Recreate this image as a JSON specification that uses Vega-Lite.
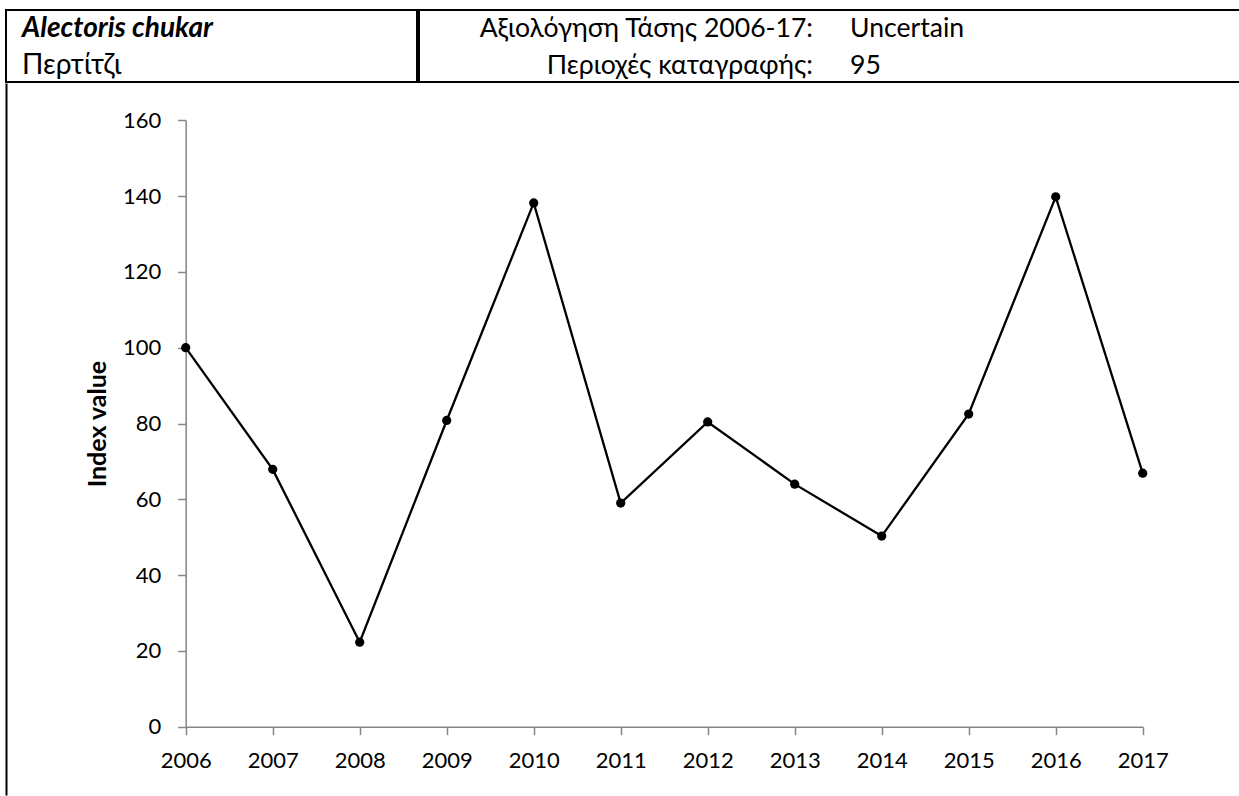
{
  "$schema": "https://vega.github.io/schema/vega-lite/v6.json",
  "background": "white",
  "padding": {"left": 5, "top": 9, "right": 0, "bottom": 0},
  "config": {"font": "Lato, Open Sans, sans-serif", "view": {"stroke": null}},
  "datasets": {
    "header": [
      {"row": 1, "name": "Alectoris chukar", "label": "Αξιολόγηση Τάσης 2006-17:", "value": "Uncertain"},
      {"row": 2, "name": "Περτίτζι", "label": "Περιοχές καταγραφής:", "value": "95"}
    ],
    "index": [
      {"year": 2006, "index": 100},
      {"year": 2007, "index": 67.9},
      {"year": 2008, "index": 22.3},
      {"year": 2009, "index": 80.8},
      {"year": 2010, "index": 138.2},
      {"year": 2011, "index": 59.0},
      {"year": 2012, "index": 80.4},
      {"year": 2013, "index": 64.0},
      {"year": 2014, "index": 50.3},
      {"year": 2015, "index": 82.5},
      {"year": 2016, "index": 139.8},
      {"year": 2017, "index": 66.9}
    ],
    "border": [{"edge": 0, "t": ""}]
  },
  "spacing": 0,
  "vconcat": [
    {
      "spacing": 0,
      "hconcat": [
        {
          "width": 411,
          "height": 72,
          "view": {"stroke": "black", "strokeWidth": 2},
          "data": {"name": "header"},
          "encoding": {
            "x": {"datum": 0, "type": "quantitative", "scale": {"domain": [0, 1], "range": [16, 411]}, "axis": null},
            "y": {"field": "row", "type": "quantitative", "scale": {"domain": [1, 2], "range": [27.3, 64]}, "axis": null},
            "text": {"field": "name"}
          },
          "layer": [
            {
              "transform": [{"filter": "datum.row == 1"}],
              "mark": {"type": "text", "align": "left", "baseline": "alphabetic", "fontSize": 28, "fontWeight": "bold", "fontStyle": "italic", "color": "black"}
            },
            {
              "transform": [{"filter": "datum.row == 2"}],
              "mark": {"type": "text", "align": "left", "baseline": "alphabetic", "fontSize": 28, "color": "black"}
            }
          ]
        },
        {
          "width": 821,
          "height": 72,
          "view": {"stroke": "black", "strokeWidth": 2},
          "data": {"name": "header"},
          "encoding": {
            "y": {"field": "row", "type": "quantitative", "scale": {"domain": [1, 2], "range": [27.3, 64]}, "axis": null}
          },
          "layer": [
            {
              "mark": {"type": "text", "align": "right", "baseline": "alphabetic", "fontSize": 26.6, "color": "black"},
              "encoding": {
                "x": {"datum": 0, "type": "quantitative", "scale": {"domain": [0, 1], "range": [394, 431]}, "axis": null},
                "text": {"field": "label"}
              }
            },
            {
              "mark": {"type": "text", "align": "left", "baseline": "alphabetic", "fontSize": 26.6, "color": "black"},
              "encoding": {
                "x": {"datum": 1, "type": "quantitative", "scale": {"domain": [0, 1], "range": [394, 431]}, "axis": null},
                "text": {"field": "value"}
              }
            }
          ]
        }
      ]
    },
    {
      "width": 1232,
      "height": 712,
      "resolve": {"scale": {"y": "independent"}, "axis": {"y": "independent"}},
      "layer": [
        {
          "data": {"name": "index"},
          "encoding": {
            "x": {
              "field": "year",
              "type": "quantitative",
              "scale": {"domain": [2006, 2017], "range": [179.7, 1136.7], "nice": false, "zero": false},
              "axis": {
                "offset": -68.3,
                "values": [2006, 2007, 2008, 2009, 2010, 2011, 2012, 2013, 2014, 2015, 2016, 2017],
                "format": "d",
                "title": null,
                "grid": false,
                "domainColor": "#868686",
                "domainWidth": 1.5,
                "tickColor": "#868686",
                "tickWidth": 1.5,
                "tickSize": 8,
                "labelFontSize": 22,
                "labelColor": "black",
                "labelPadding": 16,
                "labelFlush": false,
                "labelOverlap": false
              }
            },
            "y": {
              "field": "index",
              "type": "quantitative",
              "scale": {"domain": [0, 160], "range": [643.7, 37.3], "nice": false, "zero": true},
              "axis": {
                "orient": "left",
                "offset": -179.7,
                "values": [0, 20, 40, 60, 80, 100, 120, 140, 160],
                "title": "Index value",
                "titleFontSize": 25,
                "titleFontWeight": "bold",
                "titleColor": "black",
                "titlePadding": 12,
                "grid": false,
                "domainColor": "#868686",
                "domainWidth": 1.5,
                "tickColor": "#868686",
                "tickWidth": 1.5,
                "tickSize": 8,
                "labelFontSize": 22,
                "labelColor": "black",
                "labelPadding": 17,
                "labelFlush": false,
                "labelOverlap": false
              }
            }
          },
          "layer": [
            {"mark": {"type": "line", "color": "black", "strokeWidth": 2.3}},
            {"mark": {"type": "point", "filled": true, "color": "black", "size": 85, "opacity": 1}}
          ]
        },
        {
          "data": {"name": "border"},
          "mark": {"type": "text"},
          "encoding": {
            "text": {"field": "t"},
            "y": {
              "field": "edge",
              "type": "quantitative",
              "scale": {"domain": [0, 1], "nice": false, "zero": false},
              "axis": {
                "orient": "left",
                "offset": 0,
                "domainColor": "black",
                "domainWidth": 2,
                "ticks": false,
                "labels": false,
                "grid": false,
                "title": null
              }
            }
          }
        }
      ]
    }
  ]
}
